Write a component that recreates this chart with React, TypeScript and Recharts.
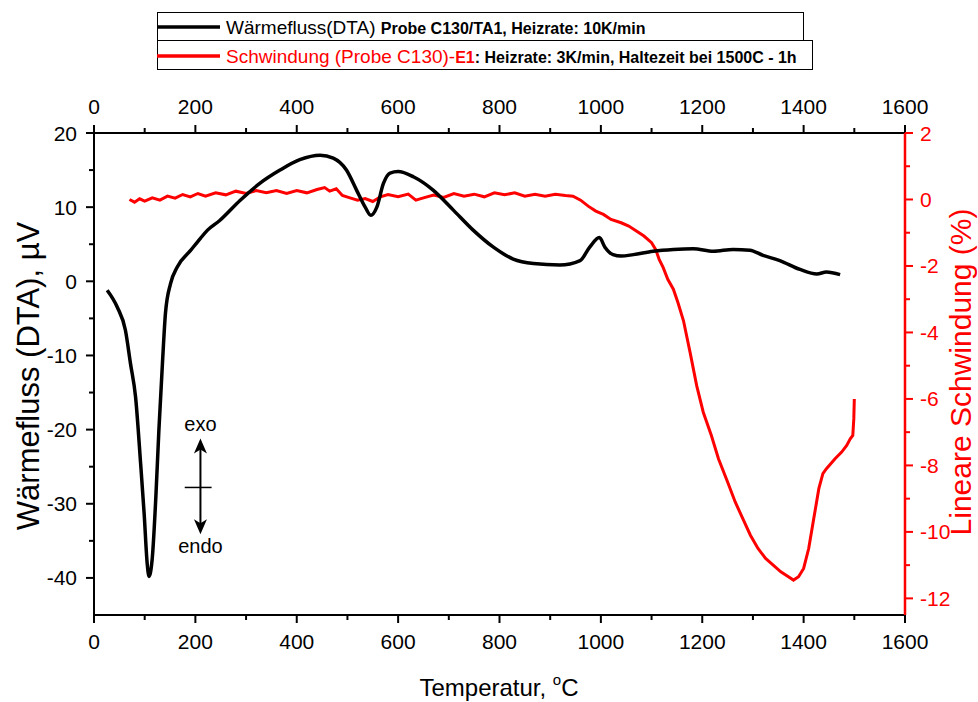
import React from 'react'
import { ComposedChart, Line, XAxis, YAxis, ReferenceLine } from 'recharts'

const FONT = '"Liberation Sans", Arial, Helvetica, sans-serif'
const RED = '#ff0000'

// DTA heat flow (µV) vs temperature (°C)
const dtaTemp = [
  26, 46, 62, 72, 82, 92, 99, 105, 108.5, 115, 122, 128, 135, 141, 151, 164, 191, 210, 224, 248,
  288, 327, 367, 406, 446, 472, 498, 518, 535, 546, 558, 571, 584, 600, 630, 669, 709, 748, 788,
  827, 867, 919, 959, 978, 997, 1008, 1024, 1040, 1064, 1103, 1143, 1182, 1222, 1261, 1294, 1320,
  1353, 1393, 1426, 1445, 1472,
]
const dtaFlow = [
  -1.2, -3.5, -6.6, -11.1, -15.6, -24.6, -31.4, -38.1, -39.8, -37.3, -29.1, -20.1, -11.1, -4.3,
  -0.3, 1.9, 4.2, 5.8, 6.9, 8.2, 10.9, 13.2, 15.0, 16.4, 17.0, 16.6, 15.0, 12.3, 10.0, 8.9, 10.0,
  13.2, 14.6, 14.8, 14.1, 12.3, 9.6, 6.9, 4.6, 3.0, 2.4, 2.2, 2.8, 4.6, 5.9, 4.6, 3.6, 3.4, 3.6,
  4.05, 4.3, 4.4, 4.05, 4.3, 4.2, 3.5, 2.8, 1.6, 1.0, 1.25, 0.9,
]

// linear shrinkage (%) vs temperature (°C)
const shrinkTemp = [
  70, 80, 90, 100, 115, 130, 145, 160, 175, 190, 205, 220, 240, 260, 280, 300, 320, 340, 360, 380,
  400, 420, 440, 455, 465, 478, 490, 505, 520, 535, 550, 565, 580, 600, 620, 635, 650, 670, 690,
  710, 730, 750, 770, 790, 810, 830, 850, 870, 890, 910, 930, 945, 960, 975, 990, 1005, 1020, 1040,
  1055, 1070, 1085, 1100, 1108, 1115, 1123, 1132, 1143, 1152, 1163, 1176, 1189, 1202, 1218, 1232,
  1250, 1265, 1280, 1295, 1310, 1325, 1340, 1355, 1370, 1380, 1390, 1400, 1410, 1420, 1430, 1438,
  1445, 1462, 1475, 1485, 1492, 1497, 1499, 1500,
]
const shrinkValue = [
  0.0, -0.08, 0.02, -0.05, 0.05, -0.02, 0.1, 0.04, 0.15, 0.08, 0.18, 0.1, 0.2, 0.14, 0.25, 0.18,
  0.27, 0.2, 0.27, 0.18, 0.27, 0.2, 0.3, 0.36, 0.25, 0.32, 0.12, 0.05, -0.02, 0.03, -0.06, 0.08,
  0.15, 0.08, 0.16, -0.02, 0.05, 0.13, 0.06, 0.18, 0.1, 0.16, 0.08, 0.2, 0.14, 0.2, 0.1, 0.16, 0.1,
  0.16, 0.12, 0.1, -0.02, -0.2, -0.35, -0.45, -0.6, -0.7, -0.8, -0.95, -1.1, -1.3, -1.5, -1.8,
  -2.05, -2.4, -2.7, -3.1, -3.65, -4.6, -5.6, -6.4, -7.1, -7.8, -8.5, -9.1, -9.6, -10.1, -10.5,
  -10.8, -11.0, -11.2, -11.35, -11.45, -11.35, -11.1, -10.5, -9.6, -8.7, -8.25, -8.1, -7.8, -7.6,
  -7.4, -7.2, -7.1, -6.6, -6.0,
]

const tempTicks = [0, 100, 200, 300, 400, 500, 600, 700, 800, 900, 1000, 1100, 1200, 1300, 1400, 1500, 1600]
const dtaTicks = [20, 15, 10, 5, 0, -5, -10, -15, -20, -25, -30, -35, -40]
const shrinkTicks = [2, 1, 0, -1, -2, -3, -4, -5, -6, -7, -8, -9, -10, -11, -12]

const dtaData = dtaTemp.map((x, i) => ({ x, y: dtaFlow[i] }))
const shrinkData = shrinkTemp.map((x, i) => ({ x, y: shrinkValue[i] }))

type Side = 'top' | 'bottom' | 'left' | 'right'

// Origin-style ticks: outward, labels only on the major ones
function makeTick(side: Side, step: number, color: string) {
  return (props: any) => {
    const { x, y, payload } = props
    const v = payload.value
    const major = Math.abs(v % step) < 1e-9
    const len = major ? 8 : 5
    let line
    let label = null
    const txt = { fontFamily: FONT, fontSize: 21, fill: color }
    if (side === 'bottom') {
      line = <line x1={x} y1={y} x2={x} y2={y + len} stroke={color} strokeWidth={2} />
      if (major) label = <text x={x} y={y + 34} textAnchor="middle" {...txt}>{v}</text>
    } else if (side === 'top') {
      line = <line x1={x} y1={y} x2={x} y2={y - len} stroke={color} strokeWidth={2} />
      if (major) label = <text x={x} y={y - 19} textAnchor="middle" {...txt}>{v}</text>
    } else if (side === 'left') {
      line = <line x1={x} y1={y} x2={x - len} y2={y} stroke={color} strokeWidth={2} />
      if (major) label = <text x={x - 17} y={y + 7.5} textAnchor="end" {...txt}>{v}</text>
    } else {
      line = <line x1={x} y1={y} x2={x + len} y2={y} stroke={color} strokeWidth={2} />
      if (major) label = <text x={x + 15} y={y + 7.5} textAnchor="start" {...txt}>{v}</text>
    }
    return (
      <g>
        {line}
        {label}
      </g>
    )
  }
}

// exo / endo double arrow
const ExoEndoArrow = (props: any) => {
  const { x1, y1, y2 } = props
  const top = Math.min(y1, y2)
  const bot = Math.max(y1, y2)
  const txt = { fontFamily: FONT, fontSize: 20, fill: '#000' }
  return (
    <g>
      <line x1={x1} y1={top + 10} x2={x1} y2={bot - 10} stroke="#000" strokeWidth={2} />
      <polygon points={`${x1},${top} ${x1 - 6.5},${top + 15} ${x1},${top + 11} ${x1 + 6.5},${top + 15}`} fill="#000" />
      <polygon points={`${x1},${bot} ${x1 - 6.5},${bot - 15} ${x1},${bot - 11} ${x1 + 6.5},${bot - 15}`} fill="#000" />
      <text x={x1} y={top - 8} textAnchor="middle" {...txt}>exo</text>
      <text x={x1} y={bot + 19} textAnchor="middle" {...txt}>endo</text>
    </g>
  )
}

export default function App() {
  return (
    <div style={{ position: 'absolute', left: 0, top: 0, width: 978, height: 702, background: '#fff' }}>
      <ComposedChart width={978} height={702} margin={{ top: 93, right: 13, bottom: 47, left: 34 }}>
        <XAxis
          xAxisId="b"
          dataKey="x"
          type="number"
          orientation="bottom"
          domain={[0, 1600]}
          ticks={tempTicks}
          interval={0}
          allowDataOverflow
          height={40}
          tickSize={0}
          tickMargin={0}
          axisLine={{ stroke: '#000', strokeWidth: 2 }}
          tick={makeTick('bottom', 200, '#000')}
        />
        <XAxis
          xAxisId="t"
          dataKey="x"
          type="number"
          orientation="top"
          domain={[0, 1600]}
          ticks={tempTicks}
          interval={0}
          allowDataOverflow
          height={40}
          tickSize={0}
          tickMargin={0}
          axisLine={{ stroke: '#000', strokeWidth: 2 }}
          tick={makeTick('top', 200, '#000')}
        />
        <YAxis
          yAxisId="l"
          dataKey="y"
          type="number"
          orientation="left"
          domain={[-45, 20]}
          ticks={dtaTicks}
          interval={0}
          allowDataOverflow
          width={60}
          tickSize={0}
          tickMargin={0}
          axisLine={{ stroke: '#000', strokeWidth: 2 }}
          tick={makeTick('left', 10, '#000')}
        />
        <YAxis
          yAxisId="r"
          dataKey="y"
          type="number"
          orientation="right"
          domain={[-12.5, 2]}
          ticks={shrinkTicks}
          interval={0}
          allowDataOverflow
          width={60}
          tickSize={0}
          tickMargin={0}
          axisLine={{ stroke: RED, strokeWidth: 2.5 }}
          tick={makeTick('right', 2, RED)}
        />
        <Line
          xAxisId="t"
          yAxisId="r"
          data={shrinkData}
          dataKey="y"
          type="linear"
          stroke={RED}
          strokeWidth={3}
          dot={false}
          isAnimationActive={false}
        />
        <Line
          xAxisId="b"
          yAxisId="l"
          data={dtaData}
          dataKey="y"
          type="monotone"
          stroke="#000"
          strokeWidth={3.5}
          dot={false}
          isAnimationActive={false}
        />
        <ReferenceLine
          xAxisId="b"
          yAxisId="l"
          segment={[{ x: 179, y: -27.8 }, { x: 232, y: -27.8 }]}
          stroke="#000"
          strokeWidth={1.5}
        />
        <ReferenceLine
          xAxisId="b"
          yAxisId="l"
          segment={[{ x: 210, y: -21.2 }, { x: 210, y: -34.1 }]}
          shape={ExoEndoArrow}
        />
      </ComposedChart>

      <svg
        width={978}
        height={702}
        style={{ position: 'absolute', left: 0, top: 0, pointerEvents: 'none' }}
        fontFamily={FONT}
      >
        {/* legend */}
        <rect x={157.5} y={12.5} width={646} height={28} fill="none" stroke="#000" strokeWidth={1} />
        <rect x={157.5} y={40.5} width={655} height={29} fill="none" stroke="#000" strokeWidth={1} />
        <line x1={157} y1={27} x2={220} y2={27} stroke="#000" strokeWidth={3.5} />
        <line x1={157} y1={56} x2={220} y2={56} stroke={RED} strokeWidth={3.5} />
        <text x={226} y={33.5} fontSize={19} fill="#000">
          Wärmefluss(DTA){' '}
          <tspan fontWeight="bold" fontSize={16}>Probe C130/TA1, Heizrate: 10K/min</tspan>
        </text>
        <text x={226} y={62.5} fontSize={19} fill={RED}>
          Schwindung (Probe C130)-
          <tspan fontWeight="bold" fontSize={16}>E1</tspan>
          <tspan fontWeight="bold" fontSize={16} fill="#000">: Heizrate: 3K/min, Haltezeit bei 1500C - 1h</tspan>
        </text>

        {/* axis titles */}
        <text x={499} y={696} textAnchor="middle" fontSize={24} fill="#000">
          Temperatur, <tspan fontSize={15} dy={-11}>o</tspan><tspan dy={11}>C</tspan>
        </text>
        <text transform="translate(39,376) rotate(-90)" textAnchor="middle" fontSize={31} fill="#000">
          Wärmefluss (DTA), µV
        </text>
        <text transform="translate(971,372) rotate(-90)" textAnchor="middle" fontSize={30} fill={RED}>
          Lineare Schwindung (%)
        </text>
      </svg>
    </div>
  )
}
